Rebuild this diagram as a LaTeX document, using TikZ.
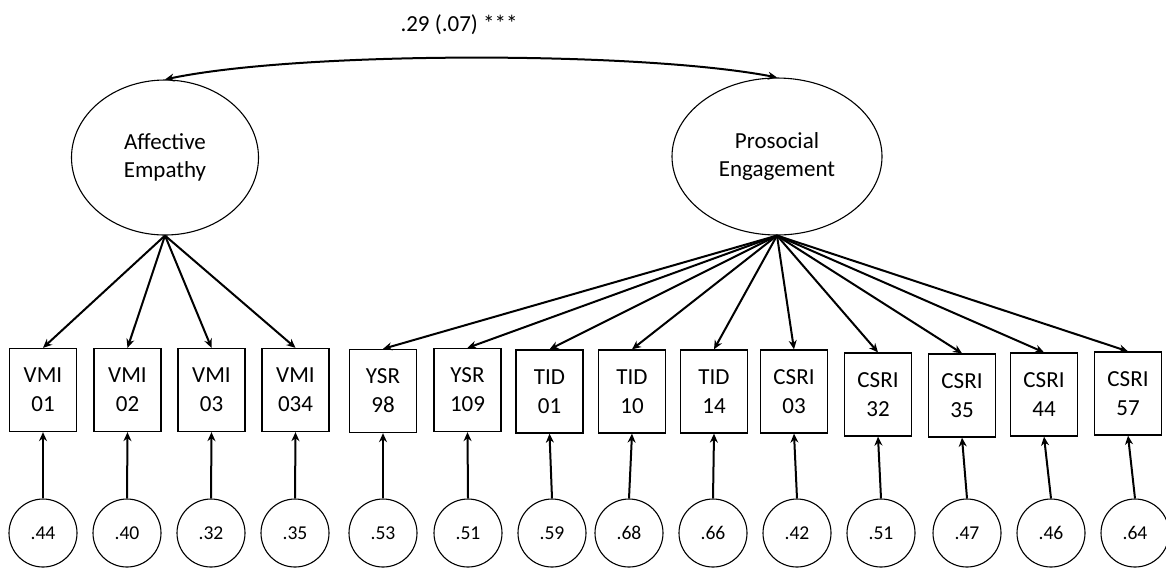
\documentclass[tikz,border=0pt]{standalone}
\usepackage{fontspec}
\setmainfont{Carlito}
\usetikzlibrary{shapes.geometric,arrows.meta}
\tikzset{
  latent/.style={draw, line width=0.55pt, ellipse, inner sep=0pt, align=center,
    font=\fontsize{11.5}{14}\selectfont},
  obs/.style={draw, line width=0.65pt, rectangle, inner sep=0pt, minimum width=33.5pt,
    minimum height=41.5pt, align=center, font=\fontsize{11.5}{14.5}\selectfont},
  err/.style={draw, line width=0.55pt, circle, inner sep=0pt, minimum size=34pt,
    font=\fontsize{9.8}{12}\selectfont},
  arr/.style={line width=1pt, -{Stealth[length=4.5pt,width=4pt]}},
  darr/.style={line width=1pt, {Stealth[length=4.5pt,width=4pt]}-{Stealth[length=4.5pt,width=4pt]}},
  lbl/.style={font=\fontsize{11.5}{14}\selectfont}
}
\begin{document}
\begin{tikzpicture}[x=0.5pt,y=-0.5pt]
\useasboundingbox (0,0) rectangle (1166,570);
% latent variables
\node[latent, minimum width=93.5pt, minimum height=77.5pt] (e1) at (165,157.5) {Affective\\Empathy};
\node[latent, minimum width=105pt, minimum height=78.5pt] (e2) at (777,156.5) {Prosocial\\Engagement};
% covariance
\node[lbl] (cov) at (459,25) {.29 (.07) ***};
\draw[darr] (e1.north) .. controls (300,51) and (640,51) .. (e2.north);
% observed indicators
\node[obs] (b1) at (43,390) {VMI\\01};
\node[obs] (b2) at (127.5,390) {VMI\\02};
\node[obs] (b3) at (211.5,390) {VMI\\03};
\node[obs] (b4) at (295.5,390) {VMI\\034};
\node[obs] (b5) at (383,391) {YSR\\98};
\node[obs] (b6) at (467.5,390) {YSR\\109};
\node[obs] (b7) at (549.5,391.5) {TID\\01};
\node[obs] (b8) at (632,391.5) {TID\\10};
\node[obs] (b9) at (714,391.5) {TID\\14};
\node[obs] (b10) at (794,391.5) {CSRI\\03};
\node[obs] (b11) at (878,394.5) {CSRI\\32};
\node[obs] (b12) at (962,395.5) {CSRI\\35};
\node[obs] (b13) at (1044,394.5) {CSRI\\44};
\node[obs] (b14) at (1128,393.5) {CSRI\\57};
% error terms
\node[err] (c1) at (43,533) {.44};
\node[err] (c2) at (127,533) {.40};
\node[err] (c3) at (211,533) {.32};
\node[err] (c4) at (295,533) {.35};
\node[err] (c5) at (383,533) {.53};
\node[err] (c6) at (468,533) {.51};
\node[err] (c7) at (552,533) {.59};
\node[err] (c8) at (629,533) {.68};
\node[err] (c9) at (713,533) {.66};
\node[err] (c10) at (797,533) {.42};
\node[err] (c11) at (881,533) {.51};
\node[err] (c12) at (967,533) {.47};
\node[err] (c13) at (1051,533) {.46};
\node[err] (c14) at (1135,533) {.64};
% loadings
\foreach \i in {1,...,4} \draw[arr] (e1.south) -- (b\i.north);
\foreach \i in {5,...,14} \draw[arr] (e2.south) -- (b\i.north);
% residuals
\foreach \i in {1,...,14} \draw[arr] (c\i.north) -- (b\i.south);
\end{tikzpicture}
\end{document}
